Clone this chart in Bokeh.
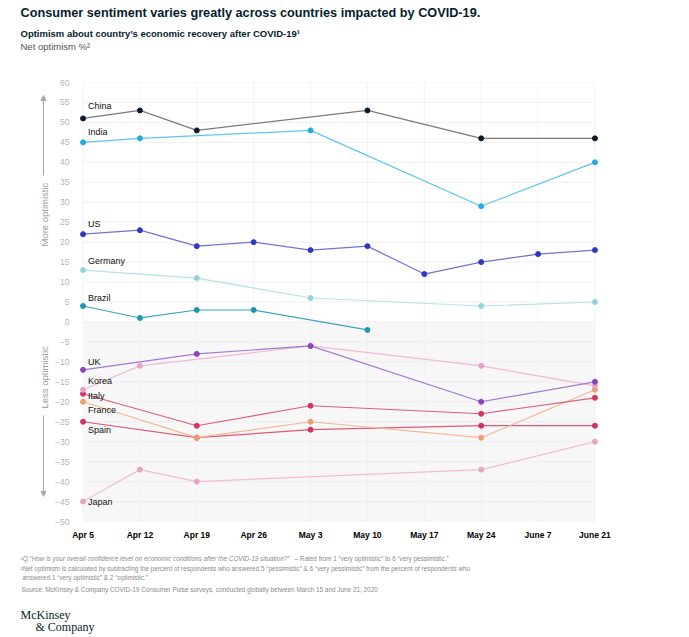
from bokeh.plotting import figure
from bokeh.layouts import column, row
from bokeh.models import FixedTicker, Label, Arrow, NormalHead, BoxAnnotation, Range1d
from bokeh.core.properties import value
from bokeh.embed import file_html
from bokeh.resources import INLINE
from math import pi

dates = ["Apr 5", "Apr 12", "Apr 19", "Apr 26", "May 3", "May 10", "May 17", "May 24", "June 7", "June 21"]
china   = [51, 53, 48, None, None, 53, None, 46, None, 46]
india   = [45, 46, None, None, 48, None, None, 29, None, 40]
us      = [22, 23, 19, 20, 18, 19, 12, 15, 17, 18]
germany = [13, None, 11, None, 6, None, None, 4, None, 5]
brazil  = [4, 1, 3, 3, None, -2, None, None, None, None]
uk      = [-12, None, -8, None, -6, None, None, -20, None, -15]
korea   = [-17, -11, None, None, -6, None, None, -11, None, -16]
italy   = [-18, None, -26, None, -21, None, None, -23, None, -19]
france  = [-20, None, -29, None, -25, None, None, -29, None, -17]
spain   = [-25, None, -29, None, -27, None, None, -26, None, -26]
japan   = [-45, -37, -40, None, None, None, None, -37, None, -30]
y_ticks = list(range(-50, 61, 5))

# name, values, line colour, dot colour, label offset (px, up)
series = [
    ("Japan", japan, "#f2bdd0", "#e9a3c3", 0),
    ("Spain", spain, "#dd5a78", "#d2325f", -8),
    ("France", france, "#f5b796", "#f09c74", -8),
    ("Italy", italy, "#dc5f80", "#d63463", -2),
    ("Korea", korea, "#f2b8d2", "#eaa0c6", 9),
    ("UK", uk, "#a27ad3", "#8a44bf", 8),
    ("Brazil", brazil, "#3aa6bd", "#1d96b1", 8),
    ("Germany", germany, "#b3e2e9", "#92d4de", 9),
    ("US", us, "#6e76cc", "#2f37c4", 10),
    ("India", india, "#5ec6ea", "#26a9e2", 10),
    ("China", china, "#7a7a7a", "#0b1a2a", 12),
]

FONT = "Liberation Sans"
W, H = 689, 637
HEAD_H = 70          # header strip height
MAIN_TOP, MAIN_BOTTOM = HEAD_H, 542
LEFT_W = 50
FRAME_L = 78
XPAD = 0.08
n = len(dates)


def blank(width, height, x0, x1, y_top, y_bottom):
    f = figure(width=width, height=height, x_range=Range1d(x0, x1), y_range=Range1d(y_bottom, y_top),
               output_backend="svg", toolbar_location=None, x_axis_location=None, y_axis_location=None,
               min_border=0, min_border_left=0, min_border_right=0, min_border_top=0, min_border_bottom=0)
    f.outline_line_color = None
    f.grid.visible = False
    return f


def txt(f, text, px, py, size, color="#000000", style="normal", font=FONT, align="left", angle=0):
    f.text(x=[px], y=[py], text=[text], text_font=value(font), text_font_size=size,
           text_color=color, text_font_style=style, text_baseline="middle", text_align=align, angle=angle)


# ---------- header ----------
head = blank(W, HEAD_H, 0, W, 0, HEAD_H)
txt(head, "Consumer sentiment varies greatly across countries impacted by COVID-19.", 20, 12, "12.7px", "#051c2c", "bold")
txt(head, "Optimism about country\u2019s economic recovery after COVID-19\u00b9", 20, 33, "9.5px", "#051c2c", "bold")
txt(head, "Net optimism %\u00b2", 20, 46, "9.5px", "#555555")

# ---------- left strip ----------
left = blank(LEFT_W, MAIN_BOTTOM - MAIN_TOP, 0, LEFT_W, MAIN_TOP, MAIN_BOTTOM)
txt(left, "More optimistic", 44, 212, "9.5px", "#9a9a9a", angle=pi / 2, align="center")
txt(left, "Less optimistic", 44, 387, "9.5px", "#9a9a9a", angle=pi / 2, align="center")
for y0, y1 in ((170, 84), (428, 515)):
    left.add_layout(Arrow(x_start=43, y_start=y0, x_end=43, y_end=y1,
                          line_color="#a8a8a8", line_width=1,
                          end=NormalHead(size=5, fill_color="#a8a8a8", line_color="#a8a8a8")))

# ---------- main chart ----------
p = figure(width=W - LEFT_W, height=MAIN_BOTTOM - MAIN_TOP,
           x_range=Range1d(-XPAD, n - 1 + XPAD), y_range=Range1d(-50, 60),
           output_backend="svg", toolbar_location=None,
           min_border_left=FRAME_L - LEFT_W, min_border_right=90, min_border_top=82 - MAIN_TOP,
           min_border_bottom=MAIN_BOTTOM - 522)
p.outline_line_color = None
p.grid.visible = False

p.add_layout(BoxAnnotation(left=0, right=n - 1, top=0, bottom=-50,
                           fill_color="#f7f7f8", fill_alpha=1, line_color=None, level="underlay"))
p.segment(x0=[0] * len(y_ticks), x1=[n - 1] * len(y_ticks), y0=y_ticks, y1=y_ticks,
          line_color="#ececef", line_width=0.8)
p.segment(x0=list(range(n)), x1=list(range(n)), y0=[-50] * n, y1=[60] * n,
          line_color="#f0f0f3", line_width=0.8)

for name, vals, lc, dc, off in series:
    xs = [i for i, v in enumerate(vals) if v is not None]
    ys = [v for v in vals if v is not None]
    p.line(xs, ys, line_color=lc, line_width=1.2)
    p.scatter(xs, ys, size=5, fill_color=dc, line_color=dc)
    p.add_layout(Label(x=xs[0], y=ys[0], x_offset=5, y_offset=off, text=name,
                       text_font=FONT, text_font_size="9px",
                       text_color="#111111", text_baseline="middle", text_align="left"))

p.xaxis.ticker = FixedTicker(ticks=list(range(n)))
p.xaxis.major_label_overrides = {i: d for i, d in enumerate(dates)}
p.xaxis.major_label_text_font = FONT
p.xaxis.major_label_text_font_style = "bold"
p.xaxis.major_label_text_font_size = "8.5px"
p.xaxis.major_label_text_color = "#000000"
p.xaxis.major_label_standoff = 2
p.yaxis.ticker = FixedTicker(ticks=y_ticks)
p.yaxis.major_label_text_font = FONT
p.yaxis.major_label_text_font_size = "8.5px"
p.yaxis.major_label_text_color = "#b5b5b5"
p.yaxis.major_label_standoff = 3
for ax in (p.xaxis, p.yaxis):
    ax.axis_line_color = None
    ax.major_tick_line_color = None
    ax.minor_tick_line_color = None

# ---------- footer ----------
foot = blank(W, H - MAIN_BOTTOM, 0, W, MAIN_BOTTOM, H)
FN = "#8a8a8a"
FS = "6.4px"
txt(foot, "\u00b9Q:", 20, 558, FS, FN)
txt(foot, "\u201cHow is your overall confidence level on economic conditions after the COVID-19 situation?\u201d",
    29, 558, FS, FN, "italic")
txt(foot, "\u2013 Rated from 1 \u201cvery optimistic\u201d to 6 \u201cvery pessimistic.\u201d", 294, 558, FS, FN)
txt(foot, "\u00b2Net optimism is calculated by subtracting the percent of respondents who answered 5 \u201cpessimistic\u201d & 6 \u201cvery pessimistic\u201d from the percent of respondents who",
    20, 568, FS, FN)
txt(foot, "answered 1 \u201cvery optimistic\u201d & 2 \u201coptimistic.\u201d", 22, 577, FS, FN)
txt(foot, "Source: McKinsey & Company COVID-19 Consumer Pulse surveys, conducted globally between March 15 and June 21, 2020",
    21, 589, FS, FN)
txt(foot, "McKinsey", 20, 614, "12px", "#051c2c", font="Liberation Serif")
txt(foot, "& Company", 35, 626, "12px", "#051c2c", font="Liberation Serif")

layout = column(head, row(left, p, spacing=0), foot, spacing=0)
open("out.html", "w").write(file_html(layout, INLINE))
